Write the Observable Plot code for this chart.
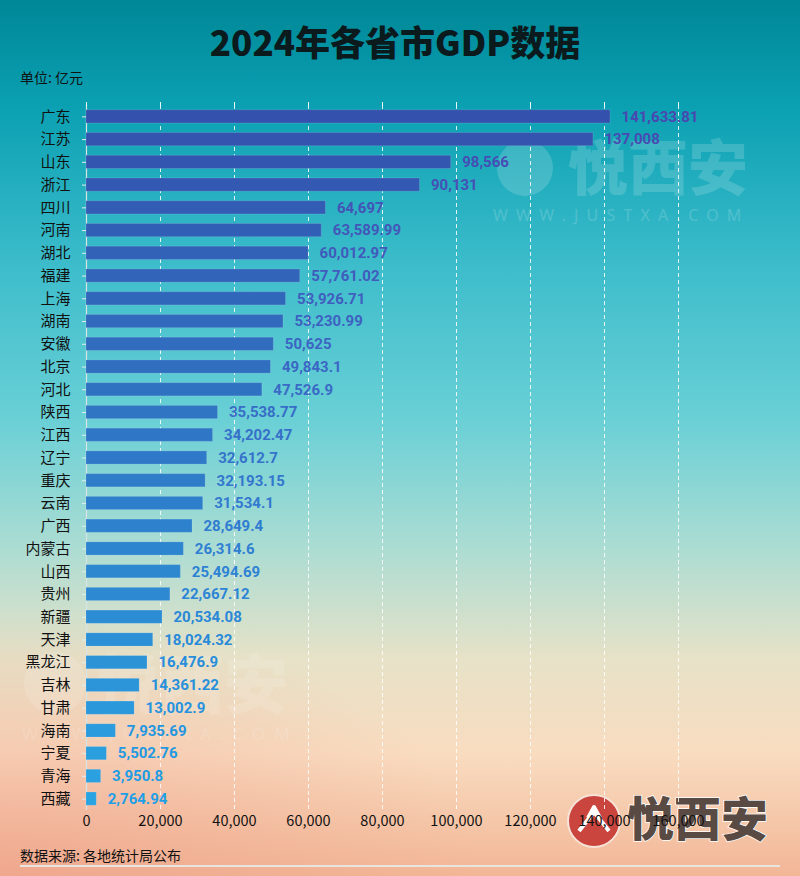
<!DOCTYPE html>
<html><head><meta charset="utf-8">
<script src="https://cdn.jsdelivr.net/npm/d3@7"></script>
<script src="https://cdn.jsdelivr.net/npm/@observablehq/plot@0.6"></script>
<style>
html,body{margin:0;padding:0;}
#wrap{position:relative;width:800px;height:876px;overflow:hidden;
 background:linear-gradient(180deg,#008797 0%,#0aa0b2 12%,#3cbccb 30%,#6ad0d6 48%,#a9dcd3 62%,#e6e2c8 75%,#f9dcc0 86%,#f2b696 100%);
 font-family:"Noto Sans CJK SC","Noto Sans",sans-serif;}
#wrap:before{content:"";position:absolute;inset:0;background:radial-gradient(ellipse 60% 30% at 0% 100%,rgba(236,150,130,0.45),rgba(236,150,130,0) 100%);}
#title{position:absolute;left:0;width:790px;top:17px;text-align:center;font-size:35px;font-weight:900;color:#0b1a1c;line-height:48px;}
#unit{position:absolute;left:20px;top:67px;font-size:14px;color:#111;}
#src{position:absolute;left:20px;top:845px;font-size:14px;color:#111;}
#line{position:absolute;left:20px;top:865px;width:760px;height:2px;background:#e8e4e0;}
#chart{position:absolute;left:0;top:90px;}
.wm{position:absolute;pointer-events:none;}
</style></head>
<body><div id="wrap">
<svg class="wm" width="800" height="876" style="left:0;top:0">
 <g opacity="0.16" fill="#ffffff">
  <circle cx="525" cy="168" r="28"/>
  <text x="568" y="190" font-size="60" font-weight="900" font-family="Noto Sans CJK SC">悦西安</text>
  <text x="493" y="221" font-size="16" letter-spacing="8.2" font-family="Noto Sans">WWW.JUSTXA.COM</text>
 </g>
 <g opacity="0.13" fill="#ffffff">
  <circle cx="55" cy="683" r="31"/>
  <text x="96" y="708" font-size="64" font-weight="900" font-family="Noto Sans CJK SC">悦西安</text>
  <text x="22" y="740" font-size="17" letter-spacing="9" font-family="Noto Sans">WWW.JUSTXA.COM</text>
 </g>
 <g>
  <circle cx="594" cy="821" r="26" fill="#c9453e" stroke="#f6e4d8" stroke-width="2"/>
  <path d="M579 831 L594 812 L609 831 M588 818 L594 807 L600 818" fill="none" stroke="#fff" stroke-width="4" stroke-linejoin="round"/>
  <text x="627" y="836" font-size="47" font-weight="900" font-family="Noto Sans CJK SC" fill="#5a4a44" stroke="#ffffff" stroke-width="1.5" paint-order="stroke">悦西安</text>
 </g>
</svg>
<div id="title">2024年各省市GDP数据</div>
<div id="unit">单位: 亿元</div>
<div id="chart"></div>
<div id="src">数据来源: 各地统计局公布</div>
<div id="line"></div>
</div>
<script>
const provinces = ["广东","江苏","山东","浙江","四川","河南","湖北","福建","上海","湖南","安徽","北京","河北","陕西","江西","辽宁","重庆","云南","广西","内蒙古","山西","贵州","新疆","天津","黑龙江","吉林","甘肃","海南","宁夏","青海","西藏"];
const gdp = [141633.81,137008,98566,90131,64697,63589.99,60012.97,57761.02,53926.71,53230.99,50625,49843.1,47526.9,35538.77,34202.47,32612.7,32193.15,31534.1,28649.4,26314.6,25494.69,22667.12,20534.08,18024.32,16476.9,14361.22,13002.9,7935.69,5502.76,3950.8,2764.94];
const xTicks = [0,20000,40000,60000,80000,100000,120000,140000,160000];

const data = provinces.map((p,i)=>({name:p, value:gdp[i], rank:i}));
const fmt = v => v.toLocaleString("en-US",{maximumFractionDigits:2});
const labelColor = d3.interpolateRgb("#4a47b0", "#1f9fe6");

const chart = Plot.plot({
  width: 800,
  height: 750,
  marginTop: 15,
  marginBottom: 30,
  marginLeft: 86,
  marginRight: 122,
  style: {background:"transparent", fontFamily:"'Noto Sans CJK SC', sans-serif", overflow:"visible"},
  x: {domain:[0,160000], axis:null, label:null},
  y: {domain: provinces, paddingInner: 0.42, paddingOuter: 0.21, round:false, axis:null, label:null},
  color: {type:"linear", domain:[0,30], range:["#3451ad","#2aa3e2"], interpolate:"rgb"},
  marks: [
    Plot.ruleX(xTicks.slice(1), {stroke:"#ffffff", strokeOpacity:0.85, strokeDasharray:"4,3", strokeWidth:1}),
    Plot.ruleX([0], {stroke:"#d8e4e4", strokeWidth:1.2}),
    Plot.axisX(xTicks, {anchor:"top", tickSize:4, tickFormat:()=>"", label:null, stroke:"#ffffff", strokeOpacity:0.9}),
    Plot.axisX(xTicks, {anchor:"bottom", tickSize:0, tickPadding:5, label:null, tickFormat:d=>d.toLocaleString("en-US"), fontSize:14.5, fill:"#111"}),
    Plot.axisY({anchor:"left", tickSize:4, tickPadding:12, label:null, fontSize:15, fill:"#111", stroke:"#e0eeee"}),
    Plot.barX(data, {x:"value", y:"name", fill:"rank", stroke:"#ffffff", strokeOpacity:0.12, strokeWidth:1}),
    Plot.text(data, {x:"value", y:"name", text:d=>fmt(d.value), dx:11, textAnchor:"start", fill:d=>labelColor(d.rank/30), fontSize:15, fontWeight:"bold", fontFamily:"Roboto, 'DejaVu Sans Condensed', sans-serif"})
  ]
});
document.getElementById("chart").appendChild(chart);
</script>
</body></html>
